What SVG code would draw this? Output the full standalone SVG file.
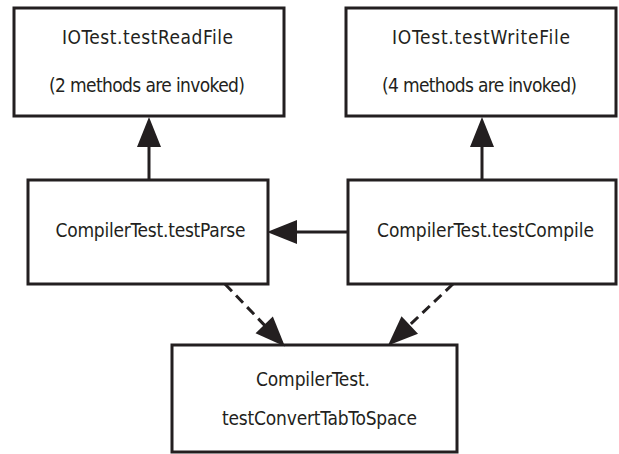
<svg xmlns="http://www.w3.org/2000/svg" width="619" height="454" viewBox="0 0 619 454">
  <style>
    .box { fill: #ffffff; stroke: #231f20; stroke-width: 3; }
    .lbl { font-family: "DejaVu Sans Condensed", "DejaVu Sans", sans-serif; font-stretch: condensed; font-size: 19px; fill: #231f20; text-anchor: middle; }
    .edge { fill: none; stroke: #231f20; stroke-width: 3; }
    .dash { stroke-dasharray: 10 6; }
  </style>
  <defs>
    <marker id="arrow" markerUnits="userSpaceOnUse" markerWidth="31" markerHeight="24" refX="25" refY="12" orient="auto" overflow="visible">
      <path d="M0,0 L30,12 L0,24 z" fill="#231f20" stroke="none"/>
    </marker>
  </defs>
  <rect width="619" height="454" fill="#ffffff"/>

  <g id="readfile">
    <rect class="box" x="14" y="8" width="270" height="108"/>
    <text class="lbl" x="147.5" y="44" textLength="171">IOTest.testReadFile</text>
    <text class="lbl" x="147" y="92" textLength="196">(2 methods are invoked)</text>
  </g>
  <g id="writefile">
    <rect class="box" x="346" y="8" width="270" height="108"/>
    <text class="lbl" x="481" y="44" textLength="178">IOTest.testWriteFile</text>
    <text class="lbl" x="479.5" y="92" textLength="195">(4 methods are invoked)</text>
  </g>
  <g id="parse">
    <rect class="box" x="28" y="180" width="240" height="104"/>
    <text class="lbl" x="150.5" y="237" textLength="190">CompilerTest.testParse</text>
  </g>
  <g id="compile">
    <rect class="box" x="348" y="180" width="268" height="104"/>
    <text class="lbl" x="485.5" y="237" textLength="217">CompilerTest.testCompile</text>
  </g>
  <g id="convert">
    <rect class="box" x="172" y="345" width="285" height="107"/>
    <text class="lbl" x="313" y="386" textLength="114">CompilerTest.</text>
    <text class="lbl" x="319.5" y="425" textLength="195">testConvertTabToSpace</text>
  </g>

  <g id="connectors">
    <path class="edge" d="M149,179 L149,122" marker-end="url(#arrow)"/>
    <path class="edge" d="M482,179 L482,122" marker-end="url(#arrow)"/>
    <path class="edge" d="M348,232 L272,232" marker-end="url(#arrow)"/>
    <path class="edge dash" d="M225,284 L281.5,342.9" marker-end="url(#arrow)"/>
    <path class="edge dash" d="M453,284 L391.6,342.1" marker-end="url(#arrow)"/>
  </g>
</svg>
